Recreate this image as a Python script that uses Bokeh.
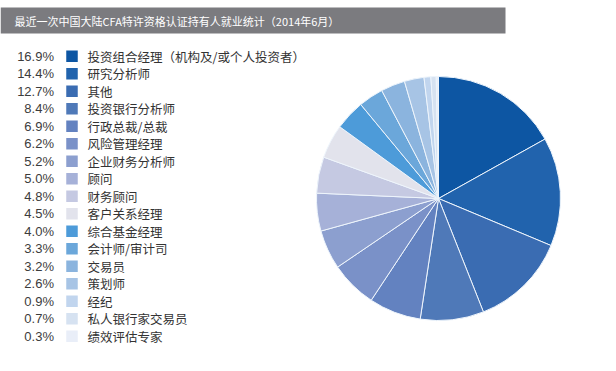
import math
from bokeh.plotting import figure
from bokeh.models import Range1d, ColumnDataSource
from bokeh.core.properties import value
from bokeh.embed import file_html
from bokeh.resources import INLINE

title = "最近一次中国大陆CFA特许资格认证持有人就业统计（2014年6月）"
categories = ["投资组合经理（机构及/或个人投资者）", "研究分析师", "其他", "投资银行分析师",
              "行政总裁/总裁", "风险管理经理", "企业财务分析师", "顾问", "财务顾问",
              "客户关系经理", "综合基金经理", "会计师/审计司", "交易员", "策划师",
              "经纪", "私人银行家交易员", "绩效评估专家"]
shares = [16.9, 14.4, 12.7, 8.4, 6.9, 6.2, 5.2, 5.0, 4.8, 4.5, 4.0, 3.3, 3.2, 2.6, 0.9, 0.7, 0.3]
colors = ["#0d56a3", "#2163ad", "#3a6cb2", "#4f79b8", "#6382c0", "#7a91c8", "#8c9fcf",
          "#a6b1d8", "#c5c9e2", "#e2e3ec", "#4d9bd9", "#6ba7da", "#8bb4de", "#a7c4e5",
          "#c1d5ee", "#d6e2f1", "#e9eef8"]

W, H = 600, 355
p = figure(width=W, height=H, x_range=Range1d(0, W), y_range=Range1d(0, H),
           output_backend="svg", toolbar_location=None, min_border=0)
p.axis.visible = False
p.grid.visible = False
p.outline_line_color = None
p.background_fill_color = "white"
p.border_fill_color = "white"

def Y(ref_y):
    return H - ref_y

def X(ref_x):
    return ref_x

# title bar
p.quad(left=[X(0)], right=[X(505)], top=[Y(7)], bottom=[Y(33)], fill_color="#7b7b7f", line_color=None)
p.text(x=[X(14)], y=[Y(20.5)], text=[title], text_color="white", text_align="left",
       text_baseline="middle", text_font=value("Noto Sans CJK SC"), text_font_size="11px")

# pie
total = sum(shares)
cum = 0.0
starts, ends = [], []
for s in shares:
    starts.append(math.pi / 2 - 2 * math.pi * cum / total)
    cum += s
    ends.append(math.pi / 2 - 2 * math.pi * cum / total)
src = ColumnDataSource(dict(start=starts, end=ends, color=colors))
p.wedge(x=X(438), y=Y(198), radius=122, start_angle="start", end_angle="end",
        direction="clock", fill_color="color", line_color="#eef5fc", line_width=1, source=src)

# legend
n = len(categories)
rows_y = [Y(55.7 + i * 17.5) for i in range(n)]
labels = [f"{v:.1f}%" for v in shares]
p.text(x=[X(53.5)] * n, y=rows_y, text=labels, text_align="right", text_baseline="middle",
       text_color="#3c3c3c", text_font=value("Liberation Sans"), text_font_size="13px")
p.rect(x=[X(71.5)] * n, y=rows_y, width=11.5, height=11.5, fill_color=colors, line_color=None)
p.text(x=[X(87)] * n, y=rows_y, text=categories, text_align="left", text_baseline="middle",
       text_color="#333333", text_font=value("Noto Sans CJK SC"), text_font_size="12.5px")

open("out.html", "w").write(file_html(p, INLINE))
